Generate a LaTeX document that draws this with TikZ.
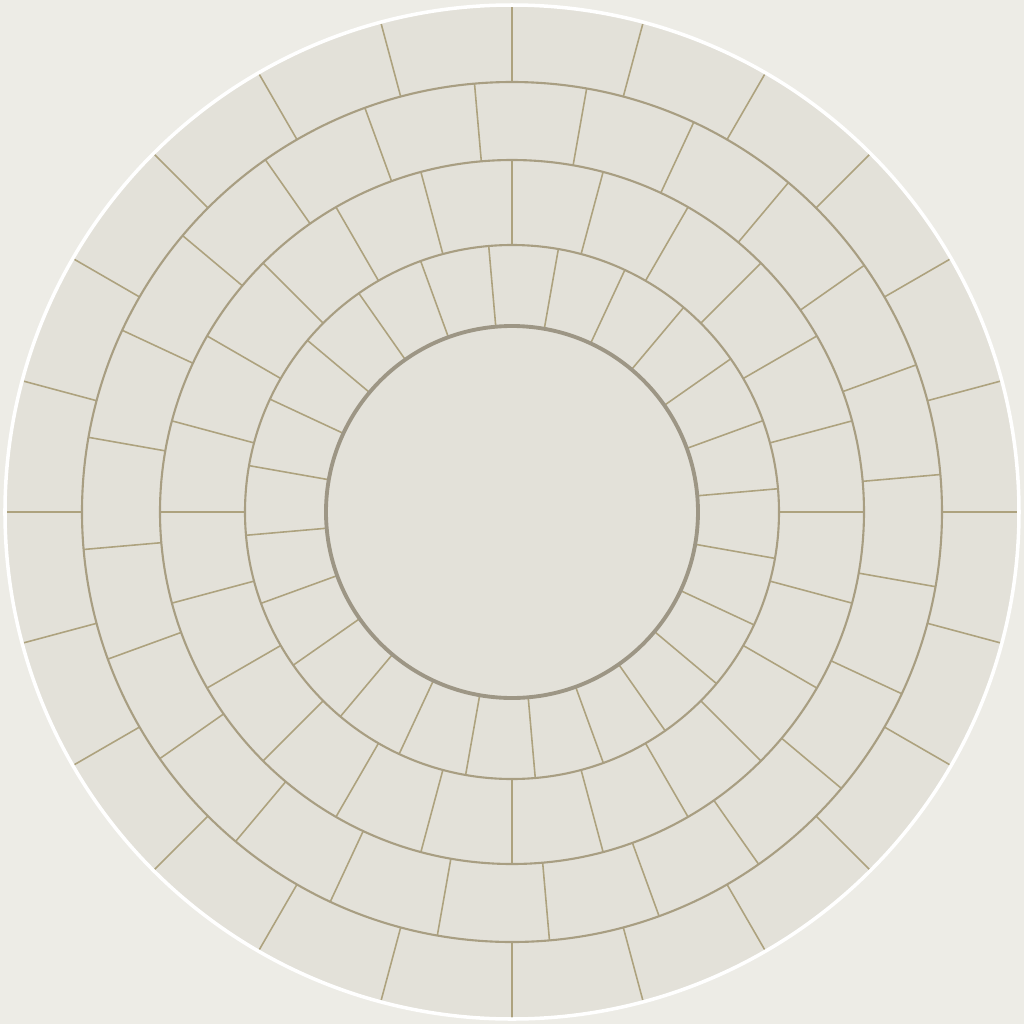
\documentclass[tikz,border=0pt]{standalone}
\usepackage{xcolor}
\usepackage{tikz}
\definecolor{groundwhite}{HTML}{EDECE6}
\definecolor{paverstone}{HTML}{E3E1D9}
\definecolor{jointtan}{HTML}{ADA27E}
\definecolor{ringtan}{HTML}{A89E82}
\definecolor{edgegray}{HTML}{9D9685}
\tikzset{
  joint/.style={draw=jointtan, line width=0.45pt},
  ringline/.style={draw=ringtan, line width=0.6pt},
  discline/.style={draw=edgegray, line width=1.1pt},
  rim/.style={draw=white, line width=1pt}
}

\begin{document}
\begin{tikzpicture}[x=1cm,y=1cm]
  \path[use as bounding box, fill=groundwhite] (-5.12,-5.12) rectangle (5.12,5.12);
  \fill[paverstone] (0,0) circle (5.07);

  % rings 1 and 3, joints shifted by 5 degrees
  \foreach \a in {5,20,...,350} {
    \draw[joint] (\a:1.86) -- (\a:2.67);
    \draw[joint] (\a:3.52) -- (\a:4.30);
  }
  % rings 2 and 4
  \foreach \a in {0,15,...,345} {
    \draw[joint] (\a:2.67) -- (\a:3.52);
    \draw[joint] (\a:4.30) -- (\a:5.07);
  }

  \draw[ringline] (0,0) circle (2.67);
  \draw[ringline] (0,0) circle (3.52);
  \draw[ringline] (0,0) circle (4.30);
  \draw[discline] (0,0) circle (1.86);
  \draw[rim] (0,0) circle (5.07);
\end{tikzpicture}
\end{document}
